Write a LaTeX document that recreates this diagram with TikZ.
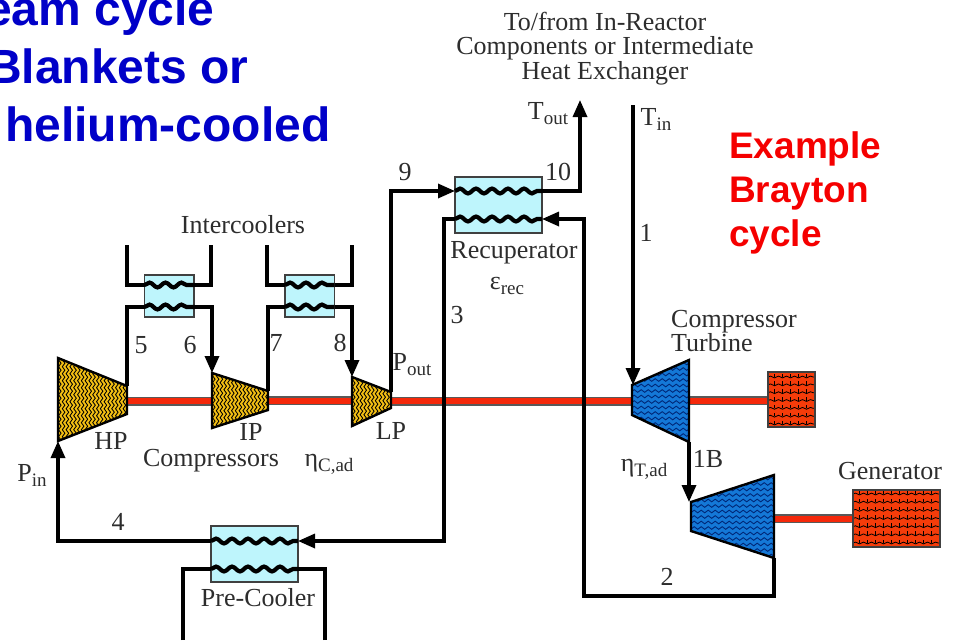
\documentclass[tikz,border=0pt]{standalone}
\usepackage{fontspec}
\setmainfont{Liberation Serif}
\newfontfamily\headfont{Liberation Sans}[BoldFont={Liberation Sans Bold}]
\usetikzlibrary{arrows.meta,decorations.pathmorphing,calc}
\definecolor{hxfill}{RGB}{190,245,252}
\definecolor{goldfill}{RGB}{242,190,20}
\definecolor{bluefill}{RGB}{20,120,215}
\definecolor{bluewave}{RGB}{0,40,120}
\definecolor{redfill}{RGB}{245,60,10}
\definecolor{shaftred}{RGB}{245,40,10}
\definecolor{txtgrey}{RGB}{45,45,45}
\definecolor{headblue}{RGB}{0,0,200}
\definecolor{headred}{RGB}{245,0,0}
\tikzset{
  x=1pt,y=-1pt,
  pipe/.style={draw=black,line width=3.3pt,line join=miter},
  flow/.style={pipe,-{Triangle[length=17pt,width=14pt]}},
  coil/.style={draw=black,line width=4.2pt,decorate,decoration={snake,segment length=16pt,amplitude=2.4pt}},
  hx/.style={draw=black!75,fill=hxfill,line width=1.4pt,inner sep=0pt,outer sep=0pt},
  shaftout/.style={draw=black!65,line width=9pt},
  shaftin/.style={draw=shaftred,line width=6pt},
  lbl/.style={text=txtgrey,inner sep=0pt,text height=17pt,text depth=1pt,font=\fontsize{26}{28}\selectfont},
  head/.style={inner sep=0pt,anchor=base west,font=\headfont\bfseries\fontsize{48}{50}\selectfont,text=headblue},
  headr/.style={inner sep=0pt,anchor=base west,font=\headfont\bfseries\fontsize{37}{39}\selectfont,text=headred},
  loadbox/.style={draw=black!75,fill=redfill,line width=1.4pt,inner sep=0pt,outer sep=0pt},
}
\newcommand{\subs}[2]{#1\raisebox{-5pt}{\fontsize{19}{19}\selectfont #2}}
% blue machine: horizontal waves
\newcommand{\turbo}[8]{%
  \begin{scope}
    \clip (#1A) -- (#1B) -- (#1C) -- (#1D) -- cycle;
    \fill[#2] (#1A) -- (#1B) -- (#1C) -- (#1D) -- cycle;
    \pgfmathsetmacro{\ynext}{#5+#4}
    \foreach \yy in {#5,\ynext,...,#6}
      \draw[#3,line width=.9pt,decorate,decoration={snake,segment length=7pt,amplitude=1.3pt}] (#7,\yy) -- (#8,\yy);
  \end{scope}
  \draw[black,line width=2.4pt,line join=miter] (#1A) -- (#1B) -- (#1C) -- (#1D) -- cycle;
}
% gold machine: vertical waves, x from #2 to #3, y from #4 to #5
\newcommand{\turbov}[5]{%
  \begin{scope}
    \clip (#1A) -- (#1B) -- (#1C) -- (#1D) -- cycle;
    \fill[goldfill] (#1A) -- (#1B) -- (#1C) -- (#1D) -- cycle;
    \pgfmathsetmacro{\xnext}{#2+3.8}
    \foreach \xx in {#2,\xnext,...,#3}
      \draw[black,line width=.85pt,decorate,decoration={snake,segment length=7pt,amplitude=1.3pt}] (\xx,#4) -- (\xx,#5);
  \end{scope}
  \draw[black,line width=2.4pt,line join=miter] (#1A) -- (#1B) -- (#1C) -- (#1D) -- cycle;
}
\newcommand{\brick}[5]{%
  \begin{scope}
    \clip (#1.north west) rectangle (#1.south east);
    \foreach \yy in {0,...,6}{
      \pgfmathsetmacro{\ya}{#2+\yy*(#3-#2)/6}
      \draw[black,line width=.8pt,decorate,decoration={snake,segment length=8pt,amplitude=.9pt}] (#4,\ya) -- (#5,\ya);
      \foreach \xx in {0,8,...,96}
        \draw[black,line width=.8pt] (#4+\xx+6,\ya) -- ++(0,-3.5);
    }
  \end{scope}
  \draw[black!75,line width=1.4pt] (#1.north west) rectangle (#1.south east);
}
\begin{document}
\begin{tikzpicture}
\path[use as bounding box,clip] (0,0) rectangle (961,640);

% heading texts
\node[head] (h1) at (-15,25) {eam cycle};
\node[head] (h2) at (-13,83) {Blankets or};
\node[head] (h3) at (5,141) {helium-cooled};
\node[headr] (r1) at (729,158) {Example};
\node[headr] (r2) at (729,202) {Brayton};
\node[headr] (r3) at (729,246) {cycle};

% machine corners
\coordinate (hpA) at (58,358);  \coordinate (hpB) at (127,386); \coordinate (hpC) at (127,414); \coordinate (hpD) at (58,441);
\coordinate (ipA) at (212,373); \coordinate (ipB) at (268,391); \coordinate (ipC) at (268,410); \coordinate (ipD) at (212,428);
\coordinate (lpA) at (352,377); \coordinate (lpB) at (391,392); \coordinate (lpC) at (391,408); \coordinate (lpD) at (352,426);
\coordinate (ctA) at (632,385); \coordinate (ctB) at (689,360); \coordinate (ctC) at (689,442); \coordinate (ctD) at (632,415);
\coordinate (ptA) at (691,502); \coordinate (ptB) at (774,475); \coordinate (ptC) at (774,558); \coordinate (ptD) at (691,531);

% load boxes
\node[loadbox,minimum width=47pt,minimum height=55pt] (load) at (791.5,399.5) {};
\node[loadbox,minimum width=87pt,minimum height=57pt] (gen) at (896.5,518.5) {};

% shafts
\draw[shaftout] (127,401) -- (212,401) (268,400.5) -- (352,400.5) (391,401) -- (632,401);
\draw[shaftin]  (127,401) -- (212,401) (268,400.5) -- (352,400.5) (391,401) -- (632,401);
\draw[shaftout] (689,400.5) -- (load.west |- 0,400.5);
\draw[shaftin]  (689,400.5) -- (load.west |- 0,400.5);
\draw[shaftout] (774,518.5) -- (gen.west);
\draw[shaftin]  (774,518.5) -- (gen.west);

\brick{load}{377}{424}{768}{815}
\brick{gen}{494}{543}{853}{940}

% machines
\turbov{hp}{56}{129}{354}{445}
\turbov{ip}{210}{270}{370}{431}
\turbov{lp}{350}{393}{374}{429}
\turbo{ct}{bluefill}{bluewave}{5.5}{358}{444}{625}{695}
\turbo{pt}{bluefill}{bluewave}{5.5}{473}{560}{685}{780}

% heat exchangers
\node[hx,minimum width=49.5pt,minimum height=42pt] (ic1) at (169.25,296) {};
\node[hx,minimum width=49.5pt,minimum height=42pt] (ic2) at (309.75,296) {};
\node[hx,minimum width=87pt,minimum height=56pt] (rec) at (498.5,205) {};
\node[hx,minimum width=87pt,minimum height=56pt] (pre) at (254.5,554) {};

% coil ends
\coordinate (rectl) at (rec.west |- 0,191);
\coordinate (rectr) at (rec.east |- 0,191);
\coordinate (recbl) at (rec.west |- 0,219);
\coordinate (recbr) at (rec.east |- 0,219);
\coordinate (pretl) at (pre.west |- 0,541);
\coordinate (pretr) at (pre.east |- 0,541);
\coordinate (prebl) at (pre.west |- 0,569);
\coordinate (prebr) at (pre.east |- 0,569);
\coordinate (ic1tl) at (ic1.west |- 0,285);
\coordinate (ic1tr) at (ic1.east |- 0,285);
\coordinate (ic1bl) at (ic1.west |- 0,307);
\coordinate (ic1br) at (ic1.east |- 0,307);
\coordinate (ic2tl) at (ic2.west |- 0,285);
\coordinate (ic2tr) at (ic2.east |- 0,285);
\coordinate (ic2bl) at (ic2.west |- 0,307);
\coordinate (ic2br) at (ic2.east |- 0,307);
\foreach \n in {ic1,ic2,rec,pre}{
  \draw[coil] (\n tl) -- (\n tr);
  \draw[coil] (\n bl) -- (\n br);
}

% free ends
\coordinate (c1a) at (127,245); \coordinate (c1b) at (211,245);
\coordinate (c2a) at (267,245); \coordinate (c2b) at (352,245);
\coordinate (pa) at (183,640);  \coordinate (pb) at (325,640);
\coordinate (toutend) at (580,100);
\coordinate (tinstart) at (633,105);
\coordinate (tintip) at (633,385);
\coordinate (cola) at (584,596);
\coordinate (colb) at (444,541);

% connectors
\draw[pipe] (c1a) |- (ic1tl);
\draw[pipe] (c1b) |- (ic1tr);
\draw[pipe] (c2a) |- (ic2tl);
\draw[pipe] (c2b) |- (ic2tr);
\draw[pipe] (hpB) |- (ic1bl);
\draw[flow] (ic1br) -| (ipA);
\draw[pipe] (ipB) |- (ic2bl);
\draw[flow] (ic2br) -| (lpA);
\draw[flow] (lpB) |- (rectl);
\draw[flow] (rectr) -| (toutend);
\draw[flow] (tinstart) -- (tintip);
\draw[flow] (ctC) -- (ctC |- ptA);
\draw[flow] (ptC) |- (cola) |- (recbr);
\draw[flow] (recbl) -| (colb) -- (pretr);
\draw[flow] (pretl) -| (hpD);
\draw[pipe] (pa) |- (prebl);
\draw[pipe] (pb) |- (prebr);

% labels
\node[lbl] (t1) at (605,22) {To/from In-Reactor};
\node[lbl] (t2) at (605,46) {Components or Intermediate};
\node[lbl] (t3) at (605,71) {Heat Exchanger};
\node[lbl] (tout) at (548,111) {\subs{T}{out}};
\node[lbl] (tin) at (656,117) {\subs{T}{in}};
\node[lbl] (n10) at (558,172) {10};
\node[lbl] (n9) at (405,172) {9};
\node[lbl] (n1) at (646,233) {1};
\node[lbl] (n3) at (457,315) {3};
\node[lbl] (n5) at (141,345) {5};
\node[lbl] (n6) at (190,345) {6};
\node[lbl] (n7) at (276,343) {7};
\node[lbl] (n8) at (340,343) {8};
\node[lbl] (n4) at (118,522) {4};
\node[lbl] (n2) at (667,577) {2};
\node[lbl] (n1b) at (708,459) {1B};
\node[lbl] (inter) at (243,225) {Intercoolers};
\node[lbl] (recl) at (514,250) {Recuperator};
\node[lbl] (erec) at (507,281) {\subs{ε}{rec}};
\node[lbl] (pout) at (412,362) {\subs{P}{out}};
\node[lbl] (pin) at (32,473) {\subs{P}{in}};
\node[lbl] (hpl) at (111,441) {HP};
\node[lbl] (ipl) at (251,432) {IP};
\node[lbl] (lpl) at (391,431) {LP};
\node[lbl] (comp) at (211,458) {Compressors};
\node[lbl] (etac) at (329,458) {\subs{η}{C,ad}};
\node[lbl] (etat) at (644,463) {\subs{η}{T,ad}};
\node[lbl] (prel) at (258,598) {Pre-Cooler};
\node[lbl,anchor=west] (ctl1) at (671,319) {Compressor};
\node[lbl,anchor=west] (ctl2) at (671,343) {Turbine};
\node[lbl] (genl) at (890,471) {Generator};
\end{tikzpicture}
\end{document}
